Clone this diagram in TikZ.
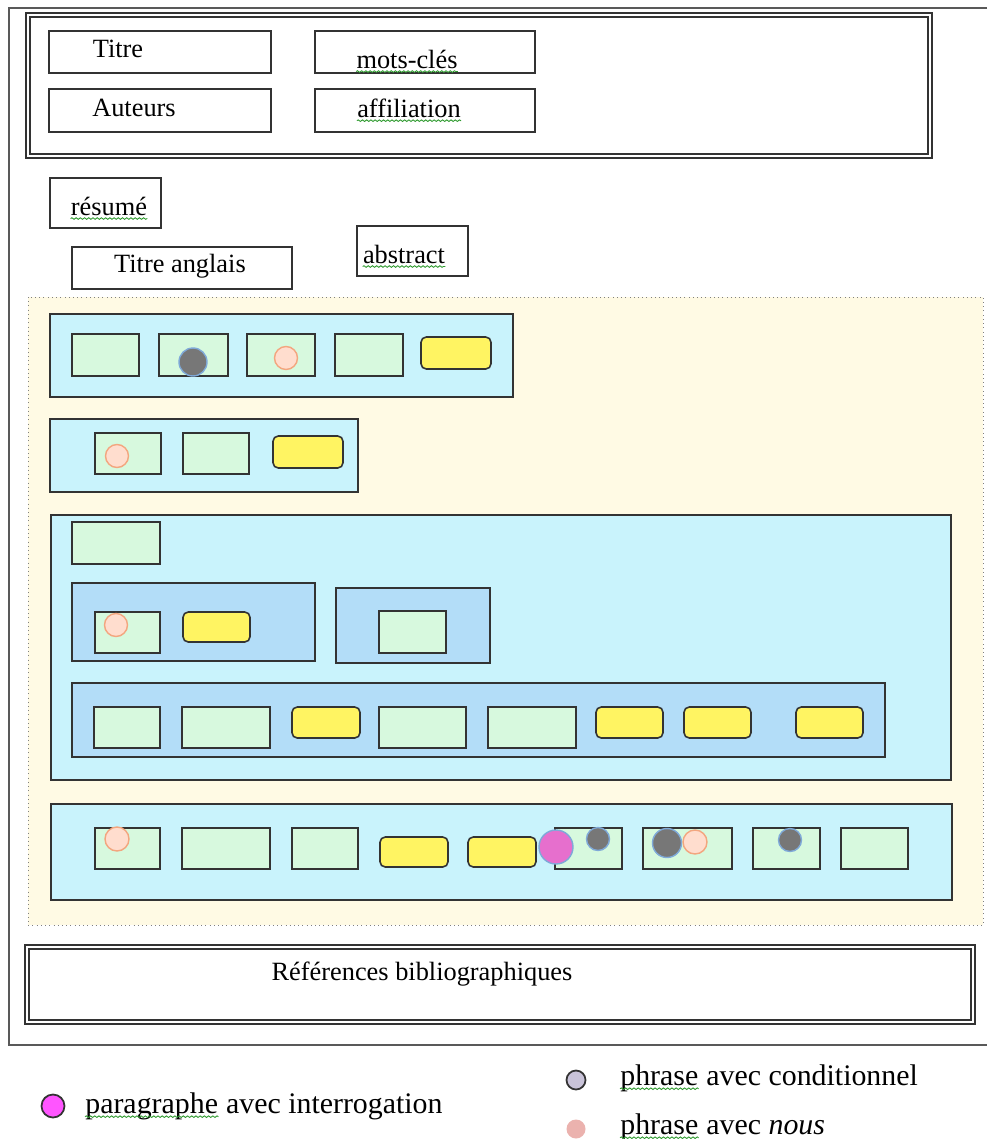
\documentclass[tikz,border=0pt]{standalone}
\usepackage{fontspec}
\setmainfont{Liberation Serif}
\usetikzlibrary{decorations.pathmorphing}

\definecolor{pagecream}{HTML}{FFFAE4}
\definecolor{partcyan}{HTML}{C9F3FC}
\definecolor{subblue}{HTML}{B3DDF8}
\definecolor{phrgreen}{HTML}{D7F9DE}
\definecolor{citeyellow}{HTML}{FFF462}
\definecolor{condgray}{HTML}{777777}
\definecolor{dotring}{HTML}{7FA9D8}
\definecolor{nousfill}{HTML}{FFDDCE}
\definecolor{nousring}{HTML}{F3A67F}
\definecolor{interfill}{HTML}{E66FCD}
\definecolor{legmagenta}{HTML}{FF55FF}
\definecolor{leglilac}{HTML}{C9C3D9}
\definecolor{legpink}{HTML}{EBB2AE}
\definecolor{spellgreen}{HTML}{2E9A2E}
\definecolor{boxline}{HTML}{333333}

\begin{document}
\begin{tikzpicture}[x=0.02cm, y=-0.02cm]

      \tikzset{boxframe/.style={draw=boxline, line width=0.9pt},
               partbox/.style={boxframe, fill=partcyan},
               subbox/.style={boxframe, fill=subblue},
               phrase/.style={boxframe, fill=phrgreen},
               citebox/.style={boxframe, fill=citeyellow, rounded corners=3pt},
               word/.style={inner sep=0pt, font=\fontsize{15}{18}\selectfont},
               legword/.style={inner sep=0pt, font=\fontsize{17}{20}\selectfont},
               spell/.style={draw=spellgreen, line width=0.5pt, decorate,
                             decoration={snake, amplitude=0.45pt, segment length=2.4pt}},
               condit/.style={fill=condgray, draw=dotring, line width=0.8pt},
               nous/.style={fill=nousfill, draw=nousring, line width=0.8pt},
               interro/.style={fill=interfill, draw=dotring, line width=0.8pt}}

      \useasboundingbox (0,0) rectangle (987,1139);
      \fill[white] (0,0) rectangle (987,1139);
%% Page
      \draw[gray!70!black, line width=1.2pt] (987,8) -- (9,8) -- (9,1045) -- (987,1045);

%% Header
      \draw[boxframe, line width=1.3pt] (26,13) rectangle (932,158);
      \draw[boxframe] (30,17) rectangle (928,154);
      \draw[boxframe] (49,31) rectangle (271,73);
      \draw[boxframe] (315,31) rectangle (535,73);
      \draw[boxframe] (49,89) rectangle (271,132);
      \draw[boxframe] (315,89) rectangle (535,132);
      \node[word] (titre) at (118,49) {Titre};
      \node[word] (motscles) at (407,59) {mots-clés};
      \node[word] (auteurs) at (134,108) {Auteurs};
      \node[word] (affil) at (409,108) {affiliation};
      \draw[spell] ([yshift=-2pt]motscles.base west) -- ([yshift=-2pt]motscles.base east);
      \draw[spell] ([yshift=-2pt]affil.base west) -- ([yshift=-2pt]affil.base east);

%% Abstracts
      \draw[boxframe] (50,178) rectangle (161,228);
      \node[word] (resume) at (109,206) {résumé};
      \draw[boxframe] (72,247) rectangle (292,289);
      \node[word] (titreang) at (180,266) {Titre anglais};
      \draw[boxframe] (357,226) rectangle (468,276);
      \node[word] (abstract) at (404,254) {abstract};
      \draw[spell] ([yshift=-2pt]resume.base west) -- ([yshift=-2pt]resume.base east);
      \draw[spell] ([yshift=-2pt]abstract.base west) -- ([yshift=-2pt]abstract.base east);

%% Body
      \draw[fill=pagecream, draw=gray, dotted] (28,297) rectangle (983,925);

% part 1
      \draw[partbox] (50,314) rectangle (513,397);
      \draw[phrase] (72,334) rectangle (139,376);
      \draw[phrase] (159,334) rectangle (228,376);
      \draw[phrase] (247,334) rectangle (315,376);
      \draw[phrase] (335,334) rectangle (403,376);
      \draw[citebox] (421,337) rectangle (491,369);
      \draw[condit] (193,362) circle[radius=14];
      \draw[nous] (286,358) circle[radius=11.5];

% part 2
      \draw[partbox] (50,419) rectangle (358,492);
      \draw[phrase] (95,433) rectangle (161,474);
      \draw[phrase] (183,433) rectangle (249,474);
      \draw[citebox] (273,436) rectangle (343,468);
      \draw[nous] (117,456) circle[radius=11.5];

% part 3
      \draw[partbox] (51,515) rectangle (951,780);
      \draw[phrase] (72,522) rectangle (160,564);
      \draw[subbox] (72,583) rectangle (315,661);
      \draw[phrase] (95,612) rectangle (160,653);
      \draw[citebox] (183,612) rectangle (250,642);
      \draw[nous] (116,625) circle[radius=11.5];
      \draw[subbox] (336,588) rectangle (490,663);
      \draw[phrase] (379,611) rectangle (446,653);
      \draw[subbox] (72,683) rectangle (885,757);
      \draw[phrase] (94,707) rectangle (160,748);
      \draw[phrase] (182,707) rectangle (270,748);
      \draw[citebox] (292,707) rectangle (360,738);
      \draw[phrase] (379,707) rectangle (466,748);
      \draw[phrase] (488,707) rectangle (576,748);
      \draw[citebox] (596,707) rectangle (663,738);
      \draw[citebox] (684,707) rectangle (751,738);
      \draw[citebox] (796,707) rectangle (863,738);

% part 4
      \draw[partbox] (51,804) rectangle (952,900);
      \draw[phrase] (95,828) rectangle (160,869);
      \draw[phrase] (182,828) rectangle (270,869);
      \draw[phrase] (292,828) rectangle (358,869);
      \draw[citebox] (380,837) rectangle (448,867);
      \draw[citebox] (468,837) rectangle (536,867);
      \draw[phrase] (555,828) rectangle (622,869);
      \draw[phrase] (643,828) rectangle (732,869);
      \draw[phrase] (753,828) rectangle (820,869);
      \draw[phrase] (841,828) rectangle (908,869);
      \draw[nous] (117,839) circle[radius=12];
      \draw[interro] (556,847) circle[radius=17];
      \draw[condit] (598,839) circle[radius=11.5];
      \draw[condit] (667,843) circle[radius=14.5];
      \draw[nous] (695,842) circle[radius=12];
      \draw[condit] (790,840) circle[radius=11.5];

%% References
      \draw[boxframe, line width=1.3pt] (25,945) rectangle (975,1024);
      \draw[boxframe] (29,949) rectangle (971,1020);
      \node[word] (refs) at (422,974) {Références bibliographiques};

%% Legend
      \draw[fill=legmagenta, draw=boxline, line width=1pt] (53,1106) circle[radius=11.5];
      \node[legword, anchor=west] (lgpara) at (85,1106) {paragraphe};
      \node[legword, anchor=base west] (lgparab) at ([xshift=4.2pt]lgpara.base east) {avec interrogation};
      \draw[spell] ([yshift=-2pt]lgpara.base west) -- ([yshift=-2pt]lgpara.base east);

      \draw[fill=leglilac, draw=boxline, line width=1pt] (576,1080) circle[radius=9.5];
      \node[legword, anchor=west] (lgcond) at (620,1078) {phrase};
      \node[legword, anchor=base west] (lgcondb) at ([xshift=4.2pt]lgcond.base east) {avec conditionnel};
      \draw[spell] ([yshift=-2pt]lgcond.base west) -- ([yshift=-2pt]lgcond.base east);

      \fill[legpink] (576,1129) circle[radius=9.5];
      \node[legword, anchor=west] (lgnous) at (620,1127) {phrase};
      \node[legword, anchor=base west] (lgnousb) at ([xshift=4.2pt]lgnous.base east) {avec \textit{nous}};
      \draw[spell] ([yshift=-2pt]lgnous.base west) -- ([yshift=-2pt]lgnous.base east);

\end{tikzpicture}
\end{document}
